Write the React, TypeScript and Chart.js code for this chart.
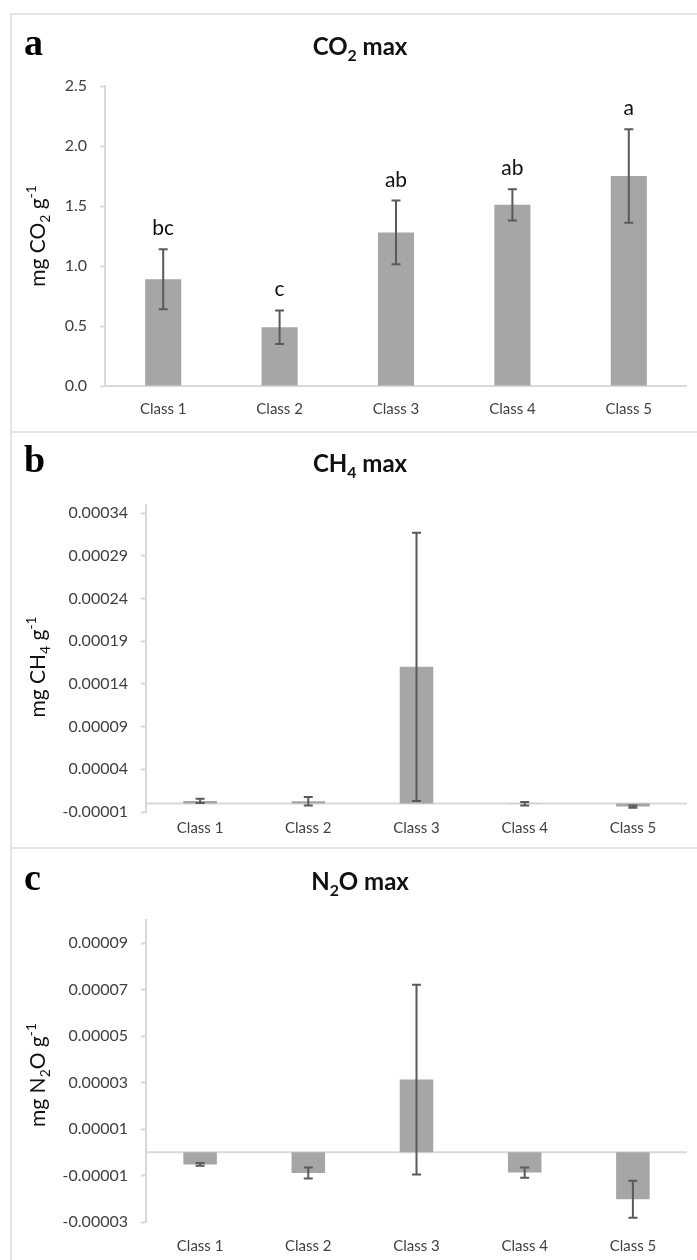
import React, { useEffect, useRef } from "react";
import { Chart, registerables } from "chart.js";

Chart.register(...registerables);

// ---------- data ----------
const classes = ["Class 1", "Class 2", "Class 3", "Class 4", "Class 5"];

const co2Values = [0.89, 0.49, 1.28, 1.51, 1.75];
const co2Errors = [0.25, 0.14, 0.265, 0.13, 0.39];
const co2Letters = ["bc", "c", "ab", "ab", "a"];
const co2Ticks = [0, 0.5, 1.0, 1.5, 2.0, 2.5];

const ch4Values = [0.000003, 0.0000025, 0.00016, -0.0000004, -0.0000037];
const ch4Errors = [0.0000025, 0.000005, 0.000157, 0.000002, 0.0000013];
const ch4Ticks = [-0.00001, 0.00004, 0.00009, 0.00014, 0.00019, 0.00024, 0.00029, 0.00034];

const n2oValues = [-0.0000052, -0.0000089, 0.0000313, -0.0000087, -0.0000202];
const n2oErrors = [0.0000006, 0.0000024, 0.0000408, 0.0000022, 0.000008];
const n2oTicks = [-0.00003, -0.00001, 0.00001, 0.00003, 0.00005, 0.00007, 0.00009];

type Seg = { t: string; sub?: boolean; sup?: boolean };

const FONT = "Lato, 'Open Sans', sans-serif";

function drawRich(
  ctx: CanvasRenderingContext2D,
  segs: Seg[],
  x: number,
  y: number,
  size: number,
  weight: string,
  align: "left" | "center"
) {
  const parts = segs.map((s) => {
    const fs = s.sub || s.sup ? size * 0.66 : size;
    ctx.font = `${weight} ${fs}px ${FONT}`;
    return { s, fs, w: ctx.measureText(s.t).width };
  });
  const total = parts.reduce((a, p) => a + p.w, 0);
  let cx = align === "center" ? x - total / 2 : x;
  ctx.textAlign = "left";
  ctx.textBaseline = "alphabetic";
  for (const p of parts) {
    ctx.font = `${weight} ${p.fs}px ${FONT}`;
    const dy = p.s.sub ? size * 0.26 : p.s.sup ? -size * 0.42 : 0;
    ctx.fillText(p.s.t, cx, y + dy);
    cx += p.w;
  }
}

type PanelCfg = {
  letter: string;
  title: Seg[];
  yTitle: Seg[];
  values: number[];
  errors: number[];
  letters?: string[];
  ticks: number[];
  min: number;
  max: number;
  decimals: number;
  // layout
  height: number;
  top: number;
  chartTop: number;
  chartBottom: number;
  yWidth: number;
  xPad: number;
  baseline: number;
  yTitleY: number;
};

const panels: PanelCfg[] = [
  {
    letter: "a",
    title: [{ t: "CO" }, { t: "2", sub: true }, { t: " max" }],
    yTitle: [{ t: "mg CO" }, { t: "2", sub: true }, { t: " g" }, { t: "-1", sup: true }],
    values: co2Values,
    errors: co2Errors,
    letters: co2Letters,
    ticks: co2Ticks,
    min: 0,
    max: 2.5,
    decimals: 1,
    height: 431,
    top: 0,
    chartTop: 86,
    chartBottom: 386,
    yWidth: 105,
    xPad: 14,
    baseline: 55,
    yTitleY: 236,
  },
  {
    letter: "b",
    title: [{ t: "CH" }, { t: "4", sub: true }, { t: " max" }],
    yTitle: [{ t: "mg CH" }, { t: "4", sub: true }, { t: " g" }, { t: "-1", sup: true }],
    values: ch4Values,
    errors: ch4Errors,
    ticks: ch4Ticks,
    min: -0.00001,
    max: 0.00035,
    decimals: 5,
    height: 414,
    top: 433,
    chartTop: 71.5,
    chartBottom: 379,
    yWidth: 146,
    xPad: 7,
    baseline: 39,
    yTitleY: 234,
  },
  {
    letter: "c",
    title: [{ t: "N" }, { t: "2", sub: true }, { t: "O max" }],
    yTitle: [{ t: "mg N" }, { t: "2", sub: true }, { t: "O g" }, { t: "-1", sup: true }],
    values: n2oValues,
    errors: n2oErrors,
    ticks: n2oTicks,
    min: -0.00003,
    max: 0.0001,
    decimals: 5,
    height: 411,
    top: 849,
    chartTop: 71,
    chartBottom: 373,
    yWidth: 146,
    xPad: 15,
    baseline: 41,
    yTitleY: 226,
  },
];

function Panel({ cfg }: { cfg: PanelCfg }) {
  const ref = useRef<HTMLCanvasElement>(null);
  useEffect(() => {
    const canvas = ref.current!;
    const deco = {
      id: "deco",
      beforeDatasetsDraw(chart: any) {
        const { ctx, chartArea, scales } = chart;
        const y0 = scales.y.getPixelForValue(0);
        ctx.save();
        ctx.strokeStyle = "#d9d9d9";
        ctx.lineWidth = 2;
        ctx.beginPath();
        ctx.moveTo(chartArea.left, y0);
        ctx.lineTo(chartArea.right, y0);
        ctx.stroke();
        ctx.restore();
      },
      afterDatasetsDraw(chart: any) {
        const { ctx, scales } = chart;
        const meta = chart.getDatasetMeta(0);
        ctx.save();
        ctx.strokeStyle = "#5a5a5a";
        ctx.lineWidth = 2;
        cfg.values.forEach((v, i) => {
          const x = meta.data[i].x;
          const e = cfg.errors[i];
          const yt = scales.y.getPixelForValue(v + e);
          const yb = scales.y.getPixelForValue(v - e);
          ctx.beginPath();
          ctx.moveTo(x, yt);
          ctx.lineTo(x, yb);
          ctx.moveTo(x - 4.5, yt);
          ctx.lineTo(x + 4.5, yt);
          ctx.moveTo(x - 4.5, yb);
          ctx.lineTo(x + 4.5, yb);
          ctx.stroke();
          if (cfg.letters) {
            ctx.fillStyle = "#111";
            ctx.font = `21px ${FONT}`;
            ctx.textAlign = "center";
            ctx.textBaseline = "alphabetic";
            ctx.fillText(cfg.letters[i], x, yt - 14);
          }
        });
        ctx.restore();
      },
      afterDraw(chart: any) {
        const { ctx } = chart;
        ctx.save();
        ctx.fillStyle = "#000";
        ctx.font = "bold 38px 'Liberation Serif', 'DejaVu Serif', serif";
        ctx.textAlign = "left";
        ctx.textBaseline = "alphabetic";
        ctx.fillText(cfg.letter, 24, cfg.baseline);
        ctx.fillStyle = "#111";
        drawRich(ctx, cfg.title, 360, cfg.baseline, 24, "bold", "center");
        ctx.translate(37, cfg.yTitleY);
        ctx.rotate(-Math.PI / 2);
        ctx.fillStyle = "#111";
        drawRich(ctx, cfg.yTitle, 0, 7.5, 21, "normal", "center");
        ctx.restore();
      },
    };
    const chart = new Chart(canvas, {
      type: "bar",
      data: {
        labels: classes,
        datasets: [
          {
            data: cfg.values,
            backgroundColor: "#a6a6a6",
            borderWidth: 0,
            barPercentage: 0.31,
            categoryPercentage: 1,
          },
        ],
      },
      options: {
        responsive: false,
        animation: false,
        events: [],
        layout: { padding: { left: 0, right: 10, top: cfg.chartTop, bottom: 0 } },
        plugins: { legend: { display: false }, tooltip: { enabled: false }, title: { display: false } },
        scales: {
          x: {
            grid: { display: false, drawTicks: false },
            border: { display: false },
            ticks: { font: { family: FONT, size: 15 }, color: "#404040", padding: cfg.xPad, maxRotation: 0 },
            afterFit: (s: any) => {
              s.height = cfg.height - cfg.chartBottom;
            },
          },
          y: {
            min: cfg.min,
            max: cfg.max,
            afterBuildTicks: (s: any) => {
              s.ticks = cfg.ticks.map((v) => ({ value: v }));
            },
            afterFit: (s: any) => {
              s.width = cfg.yWidth;
            },
            ticks: {
              font: { family: FONT, size: 16 },
              color: "#404040",
              padding: 13,
              callback: (v: any) => Number(v).toFixed(cfg.decimals),
            },
            grid: { drawOnChartArea: false, drawTicks: true, tickLength: 5, tickColor: "#d9d9d9", tickWidth: 2 },
            border: { color: "#d9d9d9", width: 2 },
          },
        },
      },
      plugins: [deco],
    } as any);
    return () => chart.destroy();
  }, []);
  return (
    <canvas
      ref={ref}
      width={697}
      height={cfg.height}
      style={{ position: "absolute", left: 0, top: cfg.top, width: 697, height: cfg.height }}
    />
  );
}

export default function App() {
  const line = "#e3e3e3";
  return (
    <div style={{ position: "absolute", left: 0, top: 0, width: 697, height: 1260, background: "#fff", overflow: "hidden" }}>
      {panels.map((p) => (
        <Panel key={p.letter} cfg={p} />
      ))}
      <div style={{ position: "absolute", left: 10, top: 13, width: 2, height: 1247, background: line }} />
      <div style={{ position: "absolute", left: 10, top: 13, width: 687, height: 2, background: line }} />
      <div style={{ position: "absolute", left: 10, top: 431, width: 687, height: 2, background: line }} />
      <div style={{ position: "absolute", left: 10, top: 847, width: 687, height: 2, background: line }} />
    </div>
  );
}
